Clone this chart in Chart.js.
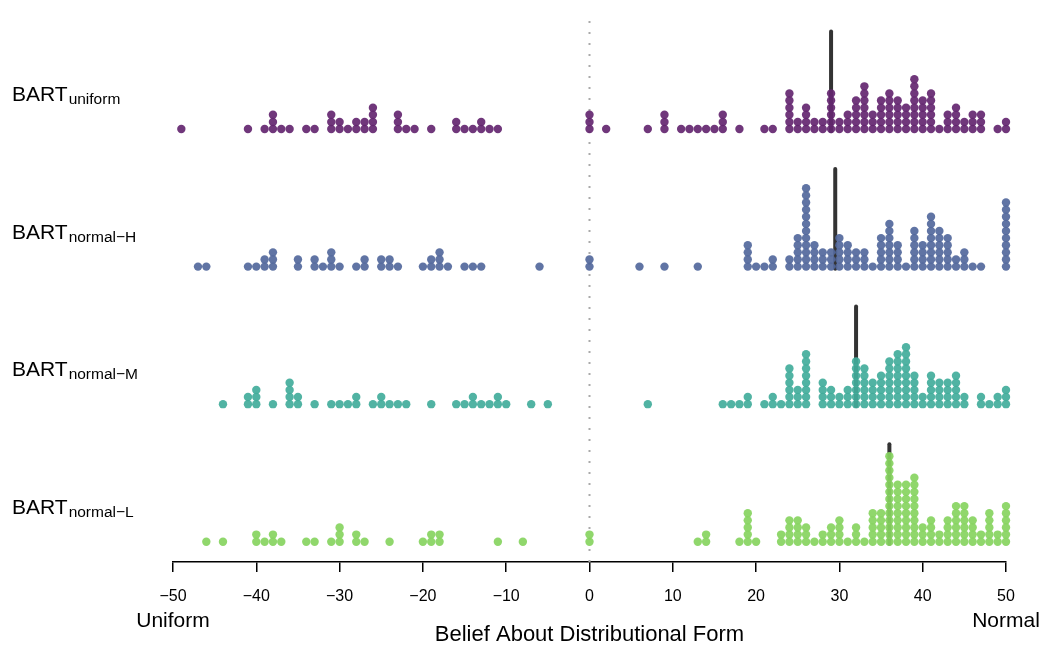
<!DOCTYPE html>
<html>
<head>
<meta charset="utf-8">
<script src="https://cdn.jsdelivr.net/npm/chart.js@4.4.0/dist/chart.umd.min.js"></script>
<style>
  body { margin: 0; background: #ffffff; }
</style>
</head>
<body>
<canvas id="canvas1" width="1043" height="646"></canvas>
<script>
// row labels (subscripts of BART), top to bottom
let conditions = ['uniform', 'normal\u2212H', 'normal\u2212M', 'normal\u2212L'];
let colors = ['rgba(100,38,112,0.92)', 'rgba(82,104,156,0.92)', 'rgba(66,172,155,0.92)', 'rgba(135,212,96,0.92)'];

// belief values and number of participants at each value
let uniformX = [-49,-41,-39,-38,-37,-36,-34,-33,-31,-30,-29,-28,-27,-26,-23,-22,-21,-19,-16,-15,-14,-13,-12,-11,0,2,7,9,11,12,13,14,15,16,18,21,22,24,25,26,27,28,29,30,31,32,33,34,35,36,37,38,39,40,41,42,43,44,45,46,47,49,50];
let uniformN = [1,1,1,3,1,1,1,1,3,2,1,2,2,4,3,1,1,1,2,1,1,2,1,1,3,1,1,3,1,1,1,1,1,3,1,1,1,6,2,4,2,2,6,2,3,5,7,3,5,6,5,4,8,5,6,1,3,4,2,3,3,1,2];

let normalHX = [-47,-46,-41,-40,-39,-38,-35,-33,-32,-31,-30,-28,-27,-25,-24,-23,-20,-19,-18,-17,-15,-14,-13,-6,0,6,9,13,19,20,21,22,24,25,26,27,28,29,30,31,32,33,34,35,36,37,38,39,40,41,42,43,44,45,46,47,50];
let normalHN = [1,1,1,1,2,3,2,2,1,3,1,1,2,2,2,1,1,2,3,1,1,1,1,1,2,1,1,1,4,1,1,2,2,5,12,4,3,3,5,4,3,3,1,5,7,4,1,6,4,8,6,5,2,3,1,1,10];

let normalMX = [-44,-41,-40,-38,-36,-35,-33,-31,-30,-29,-28,-26,-25,-24,-23,-22,-19,-16,-15,-14,-13,-12,-11,-10,-7,-5,7,16,17,18,19,21,22,23,24,25,26,28,29,30,31,32,33,34,35,36,37,38,39,40,41,42,43,44,45,47,48,49,50];
let normalMN = [1,2,3,1,4,2,1,1,1,1,2,1,2,1,1,1,1,1,1,2,1,1,2,1,1,1,1,1,1,1,2,1,2,1,6,3,8,4,3,2,3,7,6,4,5,7,8,9,5,2,5,4,4,5,2,2,1,2,3];

let normalLX = [-46,-44,-40,-39,-38,-37,-34,-33,-31,-30,-28,-27,-24,-20,-19,-18,-11,-8,0,13,14,18,19,20,23,24,25,26,27,28,29,30,31,32,33,34,35,36,37,38,39,40,41,42,43,44,45,46,47,48,49,50];
let normalLN = [1,1,2,1,2,1,1,1,1,3,2,1,1,1,2,2,1,1,2,1,2,1,5,1,2,4,4,3,1,2,3,4,1,3,1,5,5,13,9,9,10,3,4,2,4,6,6,4,2,5,2,6];

// median of each condition
let medians = [29, 29.5, 32, 36];

// axis ticks
let xTicks = [-50, -40, -30, -20, -10, 0, 10, 20, 30, 40, 50];

let rowsX = [uniformX, normalHX, normalMX, normalLX];
let rowsN = [uniformN, normalHN, normalMN, normalLN];

// y is measured in "dot heights"; each row sits rowGap dots above the next
let rowGap = 19.32;
let yMin = -2.85, yMax = 74.4;

let datasets = [];

// dots, stacked upward from each row's baseline
for (let r = 0; r < 4; r++) {
  let base = (3 - r) * rowGap;
  let pts = [];
  for (let i = 0; i < rowsX[r].length; i++) {
    for (let k = 0; k < rowsN[r][i]; k++) {
      pts.push({x: rowsX[r][i], y: base + k});
    }
  }
  datasets.push({
    data: pts,
    backgroundColor: colors[r],
    borderWidth: 0,
    pointRadius: 4.2,
    pointHoverRadius: 4.2,
    clip: false,
    order: 0
  });
}

// median bars
for (let r = 0; r < 4; r++) {
  let base = (3 - r) * rowGap;
  datasets.push({
    data: [{x: medians[r], y: base - 0.3}, {x: medians[r], y: base + 13.7}],
    showLine: true,
    borderColor: '#333333',
    borderWidth: 4,
    borderCapStyle: 'round',
    pointRadius: 0,
    clip: false,
    order: 1
  });
}

// dotted reference line at zero
datasets.push({
  data: [{x: 0, y: yMin}, {x: 0, y: yMax}],
  showLine: true,
  borderColor: '#aaaaaa',
  borderWidth: 2,
  borderDash: [2, 9],
  pointRadius: 0,
  order: 2
});

let fontFam = "'Liberation Sans', Arial, sans-serif";

// row labels, end labels and axis title
let textPlugin = {
  id: 'texts',
  afterDraw: function(chart) {
    let ctx = chart.ctx;
    let xs = chart.scales.x, ys = chart.scales.y;
    ctx.save();
    ctx.fillStyle = '#000';
    ctx.textBaseline = 'alphabetic';
    for (let r = 0; r < 4; r++) {
      let yb = ys.getPixelForValue((3 - r) * rowGap) - 28;
      ctx.font = '21px ' + fontFam;
      ctx.textAlign = 'left';
      ctx.fillText('BART', 12, yb);
      let w = ctx.measureText('BART').width;
      ctx.font = '15.5px ' + fontFam;
      ctx.fillText(conditions[r], 12 + w + 1, yb + 3);
    }
    ctx.font = '21px ' + fontFam;
    ctx.textAlign = 'center';
    ctx.textBaseline = 'middle';
    ctx.fillText('Uniform', xs.getPixelForValue(-50), 621);
    ctx.fillText('Normal', xs.getPixelForValue(50), 621);
    ctx.font = '22px ' + fontFam;
    ctx.fillText('Belief About Distributional Form', (xs.left + xs.right) / 2, 635);
    ctx.restore();
  }
};

let options = {
  type: 'scatter',
  data: { datasets: datasets },
  options: {
    responsive: false,
    animation: false,
    layout: { padding: { left: 173, right: 37, top: 12, bottom: 0 } },
    plugins: {
      legend: { display: false },
      tooltip: { enabled: false }
    },
    scales: {
      x: {
        type: 'linear',
        min: -50,
        max: 50,
        afterFit: function(scale) { scale.height = 84; },
        afterBuildTicks: function(scale) {
          scale.ticks = xTicks.map(function(v) { return {value: v}; });
        },
        ticks: {
          color: '#000',
          font: { family: fontFam, size: 16 },
          padding: 15,
          maxRotation: 0,
          callback: function(v) { return v < 0 ? '\u2212' + Math.abs(v) : '' + v; }
        },
        grid: {
          drawOnChartArea: false,
          color: '#000',
          lineWidth: 1.5,
          tickLength: 10
        },
        border: { display: true, color: '#000', width: 1.5 }
      },
      y: {
        display: false,
        min: yMin,
        max: yMax
      }
    }
  },
  plugins: [textPlugin]
};

let chart = new Chart(document.getElementById('canvas1'), options);
</script>
</body>
</html>
